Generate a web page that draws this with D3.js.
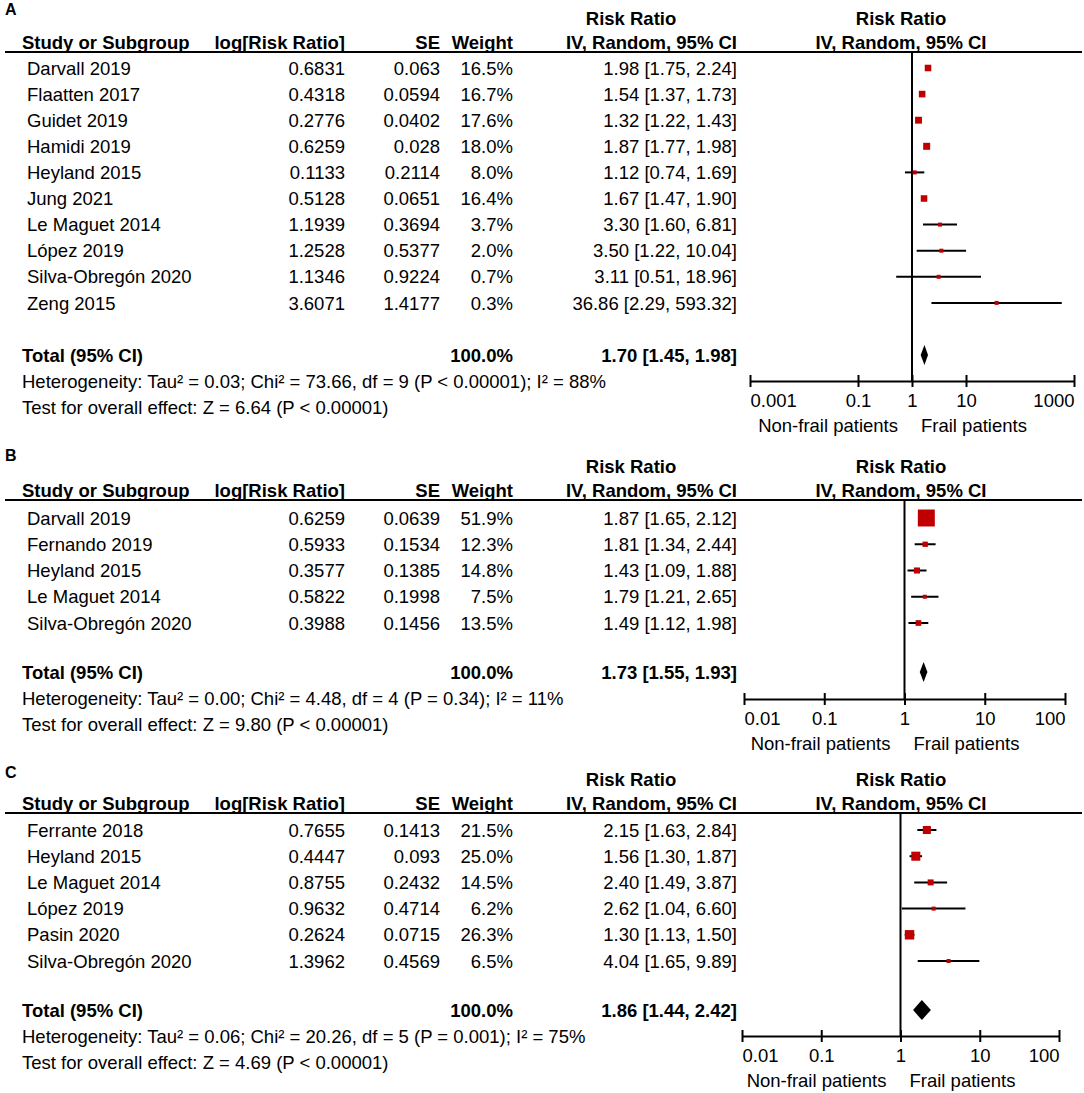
<!DOCTYPE html>
<html>
<head>
<meta charset="utf-8">
<script src="https://cdn.jsdelivr.net/npm/d3@7"></script>
<style>
    body { margin: 0; background: #fff; }
    svg text { font-family: Arial, "Liberation Sans", sans-serif; fill: #000; }
</style>
</head>
<body>
<div id="forest"></div>
<script>
// Panel A
const studiesA = ["Darvall 2019", "Flaatten 2017", "Guidet 2019", "Hamidi 2019", "Heyland 2015", "Jung 2021",
    "Le Maguet 2014", "López 2019", "Silva-Obregón 2020", "Zeng 2015"];
const logRRA = [0.6831, 0.4318, 0.2776, 0.6259, 0.1133, 0.5128, 1.1939, 1.2528, 1.1346, 3.6071];
const seA = [0.063, 0.0594, 0.0402, 0.028, 0.2114, 0.0651, 0.3694, 0.5377, 0.9224, 1.4177];
const weightA = [16.5, 16.7, 17.6, 18.0, 8.0, 16.4, 3.7, 2.0, 0.7, 0.3];
const rrA = [1.98, 1.54, 1.32, 1.87, 1.12, 1.67, 3.30, 3.50, 3.11, 36.86];
const lowA = [1.75, 1.37, 1.22, 1.77, 0.74, 1.47, 1.60, 1.22, 0.51, 2.29];
const highA = [2.24, 1.73, 1.43, 1.98, 1.69, 1.90, 6.81, 10.04, 18.96, 593.32];
const totalA = [1.70, 1.45, 1.98];
const hetA = "Heterogeneity: Tau² = 0.03; Chi² = 73.66, df = 9 (P < 0.00001); I² = 88%";
const testA = "Test for overall effect: Z = 6.64 (P < 0.00001)";
const ticksA = [0.001, 0.1, 1, 10, 1000];

// Panel B
const studiesB = ["Darvall 2019", "Fernando 2019", "Heyland 2015", "Le Maguet 2014", "Silva-Obregón 2020"];
const logRRB = [0.6259, 0.5933, 0.3577, 0.5822, 0.3988];
const seB = [0.0639, 0.1534, 0.1385, 0.1998, 0.1456];
const weightB = [51.9, 12.3, 14.8, 7.5, 13.5];
const rrB = [1.87, 1.81, 1.43, 1.79, 1.49];
const lowB = [1.65, 1.34, 1.09, 1.21, 1.12];
const highB = [2.12, 2.44, 1.88, 2.65, 1.98];
const totalB = [1.73, 1.55, 1.93];
const hetB = "Heterogeneity: Tau² = 0.00; Chi² = 4.48, df = 4 (P = 0.34); I² = 11%";
const testB = "Test for overall effect: Z = 9.80 (P < 0.00001)";
const ticksB = [0.01, 0.1, 1, 10, 100];

// Panel C
const studiesC = ["Ferrante 2018", "Heyland 2015", "Le Maguet 2014", "López 2019", "Pasin 2020", "Silva-Obregón 2020"];
const logRRC = [0.7655, 0.4447, 0.8755, 0.9632, 0.2624, 1.3962];
const seC = [0.1413, 0.093, 0.2432, 0.4714, 0.0715, 0.4569];
const weightC = [21.5, 25.0, 14.5, 6.2, 26.3, 6.5];
const rrC = [2.15, 1.56, 2.40, 2.62, 1.30, 4.04];
const lowC = [1.63, 1.30, 1.49, 1.04, 1.13, 1.65];
const highC = [2.84, 1.87, 3.87, 6.60, 1.50, 9.89];
const totalC = [1.86, 1.44, 2.42];
const hetC = "Heterogeneity: Tau² = 0.06; Chi² = 20.26, df = 5 (P = 0.001); I² = 75%";
const testC = "Test for overall effect: Z = 4.69 (P < 0.00001)";
const ticksC = [0.01, 0.1, 1, 10, 100];

const WIDTH = 1084, HEIGHT = 1093;
const FONT = 18.5;
const RED = "#c00000";

const svg = d3.select("#forest")
    .append("svg")
    .attr("width", WIDTH)
    .attr("height", HEIGHT)
    .attr("viewBox", [0, 0, WIDTH, HEIGHT]);

// column anchors (left text start / right edges)
const col = {name: 27, head: 22, logrr: 345, se: 440, weight: 513, ci: 737, rrHead: 631, plotHead: 901};

// square side grows with weight
const size = d3.scaleLinear().domain([0, 52]).range([1.7, 17]);

const buildRows = (studies, logRR, se, weight, rr, low, high) =>
    studies.map((s, i) => ({name: s, logrr: logRR[i], se: se[i], w: weight[i], rr: rr[i], low: low[i], high: high[i]}));

const drawPanel = (p) => {
    const g = svg.append("g");
    const y = i => p.rowTop + i * p.step;

    const text = (x, yy, str, anchor, bold, fs) => g.append("text")
        .attr("x", x)
        .attr("y", yy)
        .attr("dy", "0.36em")
        .attr("font-size", fs || FONT)
        .attr("font-weight", bold ? "bold" : "normal")
        .attr("text-anchor", anchor)
        .text(str);

    // panel letter
    text(5, p.letterY, p.letter, "start", true, 16);

    // headers
    const headBase = p.rule - 10;
    text(col.rrHead, p.rule - 34, "Risk Ratio", "middle", true);
    text(col.plotHead, p.rule - 34, "Risk Ratio", "middle", true);
    text(col.head, headBase, "Study or Subgroup", "start", true);
    text(col.logrr, headBase, "log[Risk Ratio]", "end", true);
    text(col.se, headBase, "SE", "end", true);
    text(col.weight, headBase, "Weight", "end", true);
    text(col.ci, headBase, "IV, Random, 95% CI", "end", true);
    text(col.plotHead, headBase, "IV, Random, 95% CI", "middle", true);

    g.append("line")
        .attr("x1", 5).attr("x2", 1082)
        .attr("y1", p.rule).attr("y2", p.rule)
        .attr("stroke", "#000").attr("stroke-width", 2);

    // study rows
    const rowG = g.selectAll("g.row")
        .data(p.rows)
        .join("g")
        .attr("class", "row");

    rowG.each(function (d, i) {
        const r = d3.select(this);
        const yy = y(i);
        [[col.name, d.name, "start"],
            [col.logrr, String(d.logrr), "end"],
            [col.se, String(d.se), "end"],
            [col.weight, d.w.toFixed(1) + "%", "end"],
            [col.ci, `${d.rr.toFixed(2)} [${d.low.toFixed(2)}, ${d.high.toFixed(2)}]`, "end"]]
            .forEach(([x, s, a]) => r.append("text")
                .attr("x", x).attr("y", yy).attr("dy", "0.36em")
                .attr("font-size", FONT).attr("text-anchor", a).text(s));
    });

    // null line
    g.append("line")
        .attr("x1", p.x(1)).attr("x2", p.x(1))
        .attr("y1", p.rule).attr("y2", p.axisY)
        .attr("stroke", "#000").attr("stroke-width", 2);

    // CI whiskers
    g.append("g")
        .selectAll("line")
        .data(p.rows)
        .join("line")
        .attr("x1", d => p.x(d.low))
        .attr("x2", d => p.x(d.high))
        .attr("y1", (d, i) => y(i))
        .attr("y2", (d, i) => y(i))
        .attr("stroke", "#000")
        .attr("stroke-width", 2);

    // weighted squares
    g.append("g")
        .attr("fill", RED)
        .selectAll("rect")
        .data(p.rows)
        .join("rect")
        .attr("x", d => p.x(d.rr) - Math.max(4, size(d.w)) / 2)
        .attr("y", (d, i) => y(i) - Math.max(4, size(d.w)) / 2)
        .attr("width", d => Math.max(4, size(d.w)))
        .attr("height", d => Math.max(4, size(d.w)));

    // total row
    const [tRR, tLow, tHigh] = p.total;
    text(col.head, p.totalY, "Total (95% CI)", "start", true);
    text(col.weight, p.totalY, "100.0%", "end", true);
    text(col.ci, p.totalY, `${tRR.toFixed(2)} [${tLow.toFixed(2)}, ${tHigh.toFixed(2)}]`, "end", true);

    g.append("path")
        .attr("d", `M${p.x(tLow)},${p.totalY} L${p.x(tRR)},${p.totalY - 10} L${p.x(tHigh)},${p.totalY} L${p.x(tRR)},${p.totalY + 10} Z`)
        .attr("fill", "#000");

    text(col.head, p.totalY + 26.5, p.het, "start", false);
    text(col.head, p.totalY + 52.5, p.test, "start", false);

    // log axis with ticks crossing the line; end labels kept inside the axis
    const last = p.ticks.length - 1;
    g.append("g")
        .attr("transform", `translate(0,${p.axisY})`)
        .call(d3.axisBottom(p.x).tickValues(p.ticks).tickFormat(d => String(d)).tickSizeOuter(0).tickSizeInner(6))
        .call(ax => ax.select(".domain").attr("stroke-width", 2))
        .call(ax => ax.selectAll(".tick line").attr("y1", -6).attr("y2", 6).attr("stroke-width", 2))
        .call(ax => ax.selectAll(".tick text")
            .attr("y", 19)
            .attr("dy", "0.36em")
            .attr("font-size", FONT)
            .attr("font-family", "Arial, 'Liberation Sans', sans-serif")
            .attr("text-anchor", (d, i) => i === 0 ? "start" : i === last ? "end" : "middle"));

    text(p.x(1) - 14, p.axisY + 44, "Non-frail patients", "end", false);
    text(p.x(1) + 9, p.axisY + 44, "Frail patients", "start", false);
};

const panels = [
    {letter: "A", letterY: 9, rule: 52, rowTop: 68, step: 26.1, totalY: 355, axisY: 381,
        x: d3.scaleLog().domain([0.001, 1000]).range([750, 1074]),
        rows: buildRows(studiesA, logRRA, seA, weightA, rrA, lowA, highA),
        total: totalA, het: hetA, test: testA, ticks: ticksA},
    {letter: "B", letterY: 455, rule: 500, rowTop: 518, step: 26.25, totalY: 672, axisY: 699,
        x: d3.scaleLog().domain([0.01, 100]).range([744, 1065]),
        rows: buildRows(studiesB, logRRB, seB, weightB, rrB, lowB, highB),
        total: totalB, het: hetB, test: testB, ticks: ticksB},
    {letter: "C", letterY: 772, rule: 813, rowTop: 830, step: 26.2, totalY: 1010, axisY: 1036,
        x: d3.scaleLog().domain([0.01, 100]).range([742, 1059]),
        rows: buildRows(studiesC, logRRC, seC, weightC, rrC, lowC, highC),
        total: totalC, het: hetC, test: testC, ticks: ticksC}
];

panels.forEach(drawPanel);
</script>
</body>
</html>
